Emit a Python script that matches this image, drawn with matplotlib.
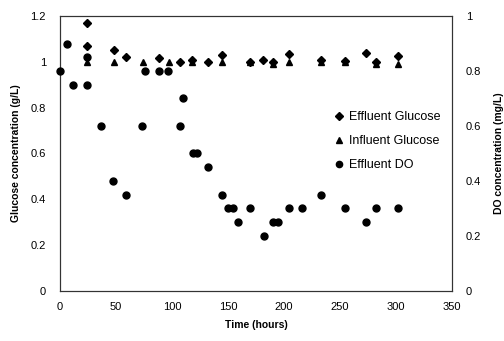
import matplotlib
matplotlib.use("Agg")
import matplotlib.pyplot as plt
from matplotlib.lines import Line2D

plt.rcParams['font.family'] = ['Liberation Sans', 'DejaVu Sans']

# Effluent glucose (g/L)
eff_glu_t = [24, 24, 48, 59, 88, 107, 118, 132, 145, 170, 181, 190, 204, 233, 254, 273, 282, 302]
eff_glu_v = [1.17, 1.07, 1.05, 1.02, 1.015, 1.0, 1.01, 1.0, 1.03, 1.0, 1.01, 1.0, 1.035, 1.01, 1.005, 1.04, 1.0, 1.025]

# Influent glucose (g/L)
inf_glu_t = [24, 48, 74, 97, 118, 145, 170, 190, 204, 233, 254, 282, 302]
inf_glu_v = [1.0, 1.0, 1.0, 1.0, 1.0, 1.0, 1.0, 0.99, 1.0, 1.0, 1.0, 0.99, 0.99]

# Effluent DO (mg/L)
do_t = [0, 6, 12, 24, 24, 37, 47, 59, 73, 76, 88, 96, 107, 110, 119, 122, 132, 145, 150, 154,
        159, 170, 182, 190, 195, 204, 216, 233, 254, 273, 282, 302]
do_v = [0.80, 0.90, 0.75, 0.75, 0.85, 0.60, 0.40, 0.35, 0.60, 0.80, 0.80, 0.80, 0.60, 0.70, 0.50, 0.50,
        0.45, 0.35, 0.30, 0.30, 0.25, 0.30, 0.20, 0.25, 0.25, 0.30, 0.30, 0.35, 0.30, 0.25, 0.30, 0.30]

x_ticks = [0, 50, 100, 150, 200, 250, 300, 350]
y_left_ticks = [0, 0.2, 0.4, 0.6, 0.8, 1.0, 1.2]
y_left_labels = ['0', '0.2', '0.4', '0.6', '0.8', '1', '1.2']
y_right_ticks = [0, 0.2, 0.4, 0.6, 0.8, 1.0]
y_right_labels = ['0', '0.2', '0.4', '0.6', '0.8', '1']

fig = plt.figure(figsize=(5.04, 3.41), dpi=100)
ax = fig.add_axes([0.119, 0.147, 0.778, 0.806])
ax2 = ax.twinx()

ax.plot(eff_glu_t, eff_glu_v, linestyle='none', marker='D', markersize=3.8, color='black', clip_on=False, zorder=3)
ax.plot(inf_glu_t, inf_glu_v, linestyle='none', marker='^', markersize=4.8, color='black', clip_on=False, zorder=3)
ax2.plot(do_t, do_v, linestyle='none', marker='o', markersize=5, color='black', clip_on=False, zorder=3)

ax.set_xlim(0, 350)
ax.set_ylim(0, 1.2)
ax2.set_ylim(0, 1.0)
ax.set_xticks(x_ticks)
ax.set_xticklabels([str(v) for v in x_ticks])
ax.set_yticks(y_left_ticks)
ax.set_yticklabels(y_left_labels)
ax2.set_yticks(y_right_ticks)
ax2.set_yticklabels(y_right_labels)

for a in (ax, ax2):
    a.tick_params(length=0, labelsize=8, pad=10)
    for s in a.spines.values():
        s.set_linewidth(0.8)
        s.set_color('#333333')
ax.tick_params(axis='x', pad=8)

ax.set_xlabel('Time (hours)', fontsize=7.5, fontweight='bold', labelpad=6)
ax.set_ylabel('Glucose concentration (g/L)', fontsize=7.5, fontweight='bold', labelpad=7)
ax2.set_ylabel('DO concentration (mg/L)', fontsize=7.5, fontweight='bold', labelpad=9)

handles = [
    Line2D([], [], linestyle='none', marker='D', markersize=3.8, color='black'),
    Line2D([], [], linestyle='none', marker='^', markersize=4.8, color='black'),
    Line2D([], [], linestyle='none', marker='o', markersize=4.5, color='black'),
]
labels = ['Effluent Glucose', 'Influent Glucose', 'Effluent DO']
ax2.legend(handles, labels, loc='center left', bbox_to_anchor=(0.69, 0.545), frameon=False,
           fontsize=9, handlelength=0.6, handletextpad=0.5, labelspacing=0.95, borderaxespad=0)

fig.savefig('out.png', dpi=100)
